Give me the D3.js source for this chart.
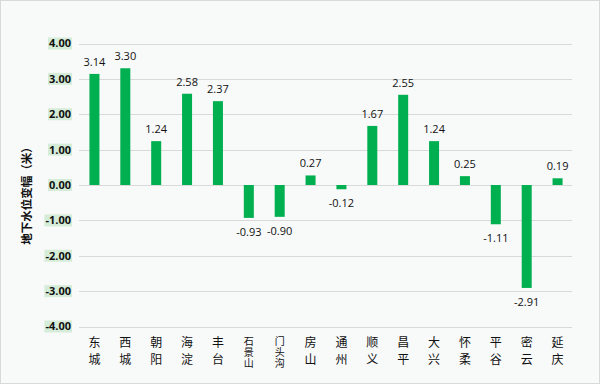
<!DOCTYPE html>
<html>
<head>
<meta charset="utf-8">
<script src="https://cdn.jsdelivr.net/npm/d3@7"></script>
<style>
  body { margin: 0; background: #fff; }
  svg { display: block; }
</style>
</head>
<body>
<script>
// districts and groundwater level change (m)
categories = ["东城", "西城", "朝阳", "海淀", "丰台", "石景山", "门头沟", "房山", "通州", "顺义", "昌平", "大兴", "怀柔", "平谷", "密云", "延庆"]
values = [3.14, 3.30, 1.24, 2.58, 2.37, -0.93, -0.90, 0.27, -0.12, 1.67, 2.55, 1.24, 0.25, -1.11, -2.91, 0.19]
ticks = [4, 3, 2, 1, 0, -1, -2, -3, -4]
yTitle = "地下水位变幅（米）"

width = 600
height = 385
margin = {top: 43.5, right: 27, bottom: 58.5, left: 79}

// excel style numbers, plain hyphen for negatives
fmt = d => d.toFixed(2)

var svg = d3.select("body").append("svg")
	.attr("width", width)
	.attr("height", height)

// chart area background + border
svg.append("rect")
	.attr("x", 0.5).attr("y", 0.5)
	.attr("width", width - 1).attr("height", height - 2)
	.attr("fill", "#f8f9f9")
	.attr("stroke", "#d9d9d9")

x = d3.scaleBand()
	.domain(categories)
	.range([margin.left, width - margin.right])
	.paddingInner(0.68)
	.paddingOuter(0.34)

y = d3.scaleLinear()
	.domain([-4, 4])
	.range([height - margin.bottom, margin.top])

// gridlines
svg.append("g")
	.selectAll("line")
	.data(ticks)
	.join("line")
	.attr("x1", margin.left)
	.attr("x2", width - margin.right - 1)
	.attr("y1", d => Math.round(y(d)) + 0.5)
	.attr("y2", d => Math.round(y(d)) + 0.5)
	.attr("stroke", "#d9d9d9")

// y tick labels with green highlight
var yt = svg.append("g")
	.selectAll("g")
	.data(ticks)
	.join("g")
	.attr("transform", d => "translate(71," + y(d) + ")")

yt.append("text")
	.attr("text-anchor", "end")
	.attr("dy", "0.36em")
	.attr("font-family", "Open Sans, sans-serif")
	.attr("font-weight", "bold")
	.attr("font-size", 11)
	.attr("fill", "#111")
	.text(fmt)

yt.each(function() {
	var t = d3.select(this).select("text")
	var b = t.node().getBBox()
	d3.select(this).insert("rect", "text")
		.attr("x", b.x - 1)
		.attr("y", -6)
		.attr("width", b.width + 2)
		.attr("height", 12)
		.attr("fill", "#d5ecd8")
})

// bars
var bw = 10
svg.append("g")
	.attr("fill", "#00b050")
	.selectAll("rect")
	.data(values)
	.join("rect")
	.attr("x", (d, i) => x(categories[i]) + x.bandwidth() / 2 - bw / 2)
	.attr("y", d => y(Math.max(0, d)))
	.attr("width", bw)
	.attr("height", d => Math.abs(y(d) - y(0)))

// value labels
svg.append("g")
	.selectAll("text")
	.data(values)
	.join("text")
	.attr("x", (d, i) => x(categories[i]) + x.bandwidth() / 2)
	.attr("y", d => d >= 0 ? y(d) - 8 : y(d) + 18)
	.attr("text-anchor", "middle")
	.attr("font-family", "Open Sans, sans-serif")
	.attr("font-size", 11)
	.attr("fill", "#111")
	.text(fmt)

// category labels, one character per line
// (two-char names are spaced out, three-char names packed tighter)
var cl = svg.append("g")
	.selectAll("g")
	.data(categories)
	.join("g")
	.attr("transform", d => "translate(" + (x(d) + x.bandwidth() / 2) + ",0)")

cl.selectAll("text")
	.data(d => d.split("").map((c, i) => ({c: c, i: i, n: d.length})))
	.join("text")
	.attr("y", d => d.n > 2 ? 344.8 + d.i * 11 : 346.5 + d.i * 17)
	.attr("text-anchor", "middle")
	.attr("font-family", "Noto Sans CJK SC, sans-serif")
	.attr("font-size", d => d.n > 2 ? 10 : 12)
	.attr("fill", "#111")
	.text(d => d.c)

// y axis title
svg.append("text")
	.attr("transform", "translate(27,193) rotate(-90)")
	.attr("text-anchor", "middle")
	.attr("dy", "0.35em")
	.attr("font-family", "Noto Sans CJK SC, sans-serif")
	.attr("font-weight", "bold")
	.attr("font-size", 11.5)
	.attr("fill", "#111")
	.text(yTitle)
</script>
</body>
</html>
